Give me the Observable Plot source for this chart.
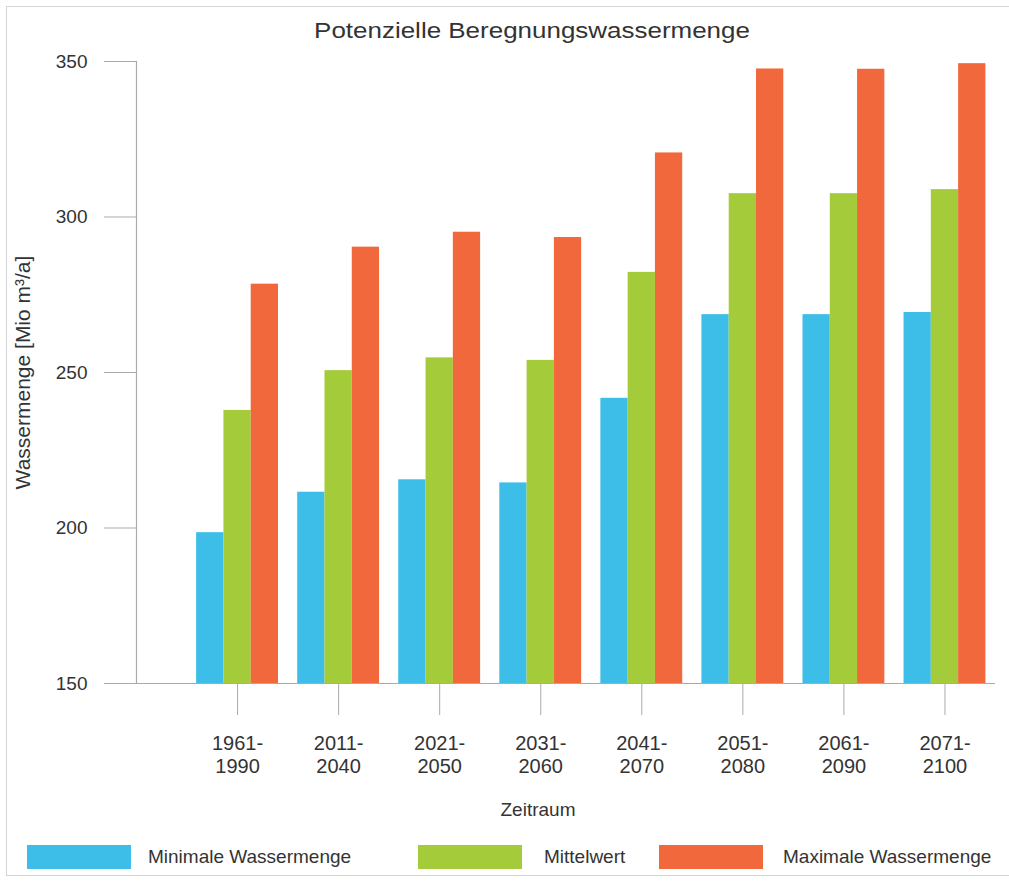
<!DOCTYPE html>
<html>
<head>
<meta charset="utf-8">
<script src="https://cdn.jsdelivr.net/npm/d3@7"></script>
<script src="https://cdn.jsdelivr.net/npm/@observablehq/plot@0.6"></script>
<style>
  html, body { margin: 0; padding: 0; background: #fff; }
  body { width: 1009px; height: 881px; position: relative; overflow: hidden; font-family: "Liberation Sans", Arial, sans-serif; color: #333; }
  #border { position: absolute; left: 6px; top: 6px; width: 1020px; height: 870px; border: 1.5px solid #d4d4d4; box-sizing: border-box; }
  #title { position: absolute; left: 532px; top: 16px; transform: translateX(-50%) scaleX(1.18); white-space: nowrap; font-size: 22px; line-height: 30px; color: #333; }
  #chart { position: absolute; left: 0; top: 50px; }
  #legend { position: absolute; top: 845px; left: 0; width: 1009px; height: 24px; }
  .item { position: absolute; top: 0; display: flex; align-items: center; height: 24px; }
  .sw { width: 104px; height: 24px; }
  .lab { font-size: 19px; color: #333; white-space: nowrap; }
</style>
</head>
<body>
<div id="border"></div>
<div id="title">Potenzielle Beregnungswassermenge</div>
<div id="chart"></div>
<div id="legend"></div>
<script>
// ---- data ----
const categories = ["1961-\n1990", "2011-\n2040", "2021-\n2050", "2031-\n2060", "2041-\n2070", "2051-\n2080", "2061-\n2090", "2071-\n2100"];
const seriesNames = ["Minimale Wassermenge", "Mittelwert", "Maximale Wassermenge"];
const minimal = [198.5, 211.5, 215.5, 214.5, 241.7, 268.6, 268.6, 269.3];
const mittel  = [237.8, 250.6, 254.7, 253.9, 282.2, 307.5, 307.5, 308.8];
const maximal = [278.4, 290.3, 295.1, 293.4, 320.6, 347.6, 347.5, 349.3];
const yTicks = [150, 200, 250, 300, 350];

// ---- styles ----
const colors = ["#3cbee9", "#a4cc3a", "#f0683b"];
const groupWidth = 0.81;
const barWidth = groupWidth / 3;

const seriesValues = [minimal, mittel, maximal];
const rows = [];
seriesValues.forEach((vals, s) => vals.forEach((v, i) => {
  rows.push({i, s, name: seriesNames[s], value: v,
    x1: i - groupWidth / 2 + s * barWidth,
    x2: i - groupWidth / 2 + (s + 1) * barWidth});
}));
const idx = categories.map((_, i) => i);

const chart = Plot.plot({
  width: 1009,
  height: 780,
  marginTop: 11,
  marginLeft: 136,
  marginRight: 14,
  marginBottom: 147,
  style: {fontFamily: "Liberation Sans, Arial, sans-serif", color: "#333", background: "transparent"},
  x: {domain: [-1, 7.5], axis: null},
  y: {domain: [150, 350], axis: null},
  color: {domain: seriesNames, range: colors},
  marks: [
    Plot.rectY(rows, {x1: "x1", x2: "x2", y1: 150, y2: "value", fill: "name"}),
    Plot.axisY({ticks: yTicks, tickSize: 32, tickPadding: 17, fontSize: 19, stroke: "#aaa", label: null, fill: "#333"}),
    Plot.ruleX([-1], {stroke: "#aaa", strokeWidth: 1.2}),
    Plot.ruleY([150], {stroke: "#aaa", strokeWidth: 1.2}),
    Plot.axisX({ticks: idx, tickSize: 32, tickFormat: () => "", stroke: "#aaa", label: null}),
    Plot.text(idx, {x: d => d, text: d => categories[d], frameAnchor: "bottom", dy: 50, lineAnchor: "top", lineHeight: 1.15, fontSize: 20, fill: "#333"}),
    Plot.text(["Zeitraum"], {frameAnchor: "bottom", dx: -28, dy: 126, lineAnchor: "middle", fontSize: 19, fill: "#333"}),
    Plot.text(["Wassermenge [Mio m³/a]"], {frameAnchor: "left", dx: -113, rotate: -90, textAnchor: "middle", lineAnchor: "middle", fontSize: 21, fill: "#333"})
  ]
});
document.getElementById("chart").appendChild(chart);

// ---- legend ----
const legendLeft = [27, 418, 659];
const legendGap = [17, 22, 20];
const legend = document.getElementById("legend");
seriesNames.forEach((name, s) => {
  const item = document.createElement("div");
  item.className = "item";
  item.style.left = legendLeft[s] + "px";
  const sw = document.createElement("div");
  sw.className = "sw";
  sw.style.background = colors[s];
  const lab = document.createElement("span");
  lab.className = "lab";
  lab.style.marginLeft = legendGap[s] + "px";
  lab.textContent = name;
  item.appendChild(sw);
  item.appendChild(lab);
  legend.appendChild(item);
});
</script>
</body>
</html>
